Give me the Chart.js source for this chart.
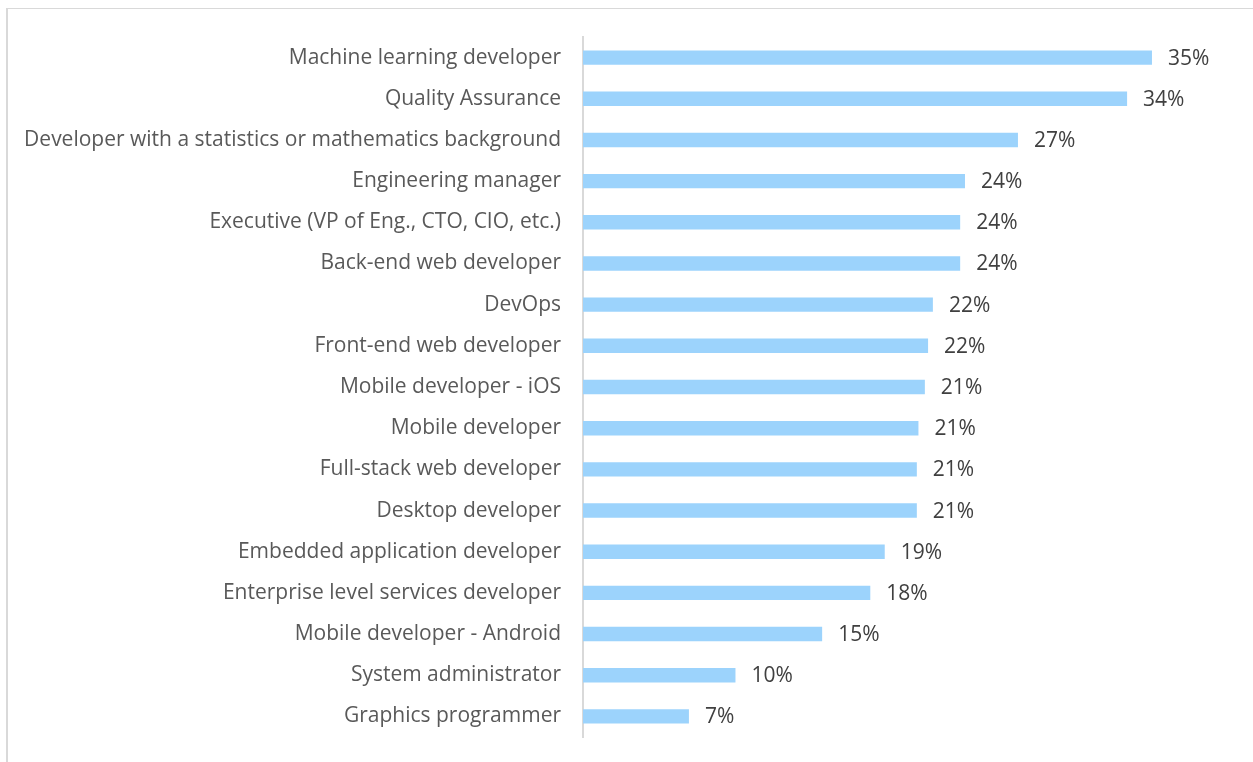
<!DOCTYPE html>
<html>
<head>
<meta charset="utf-8">
<script src="https://cdn.jsdelivr.net/npm/chart.js@4"></script>
<style>
  html, body { margin: 0; padding: 0; background: #fff; }
  body { width: 1253px; height: 762px; position: relative; overflow: hidden; }
  .frame { position: absolute; left: 6px; top: 8px; width: 1270px; height: 780px;
           border-left: 2px solid #d9d9d9; border-top: 1px solid #d9d9d9; }
  #roleChart { position: absolute; left: 0; top: 0; }
</style>
</head>
<body>
<div class="frame"></div>
<canvas id="roleChart" width="1253" height="762"></canvas>
<script>
// kategori dan nilai (persen)
const roles = [
    'Machine learning developer',
    'Quality Assurance',
    'Developer with a statistics or mathematics background',
    'Engineering manager',
    'Executive (VP of Eng., CTO, CIO, etc.)',
    'Back-end web developer',
    'DevOps',
    'Front-end web developer',
    'Mobile developer - iOS',
    'Mobile developer',
    'Full-stack web developer',
    'Desktop developer',
    'Embedded application developer',
    'Enterprise level services developer',
    'Mobile developer - Android',
    'System administrator',
    'Graphics programmer'
];
const shares = [35.45, 33.9, 27.1, 23.8, 23.5, 23.5, 21.8, 21.5, 21.3, 20.9, 20.8, 20.8, 18.8, 17.9, 14.9, 9.5, 6.6];

const FONT = '"Open Sans", Lato, sans-serif';

// label persen di ujung bar
const valueLabels = {
    id: 'valueLabels',
    afterDatasetsDraw(chart) {
        const ctx = chart.ctx;
        const meta = chart.getDatasetMeta(0);
        ctx.save();
        ctx.font = '21px ' + FONT;
        ctx.fillStyle = '#404040';
        ctx.textAlign = 'left';
        ctx.textBaseline = 'middle';
        meta.data.forEach(function(bar, i) {
            ctx.fillText(Math.round(shares[i]) + '%', bar.x + 16, bar.y + 1);
        });
        ctx.restore();
    }
};

document.addEventListener('DOMContentLoaded', function() {
    const ctx = document.getElementById('roleChart').getContext('2d');
    new Chart(ctx, {
        type: 'bar',
        data: {
            labels: roles,
            datasets: [{
                data: shares,
                backgroundColor: '#9cd3fc',
                borderWidth: 0,
                categoryPercentage: 1,
                barPercentage: 0.35
            }]
        },
        options: {
            indexAxis: 'y',
            responsive: false,
            animation: false,
            layout: {
                padding: { left: 0, right: 28, top: 37, bottom: 25 }
            },
            scales: {
                x: {
                    min: 0,
                    max: 40,
                    display: false
                },
                y: {
                    grid: { display: false, drawTicks: false },
                    border: { display: true, color: '#d9d9d9', width: 2 },
                    ticks: {
                        color: '#595959',
                        padding: 22,
                        font: { family: FONT, size: 21 }
                    },
                    afterFit: function(scale) {
                        scale.width = 583;
                        scale.paddingTop = 0;
                        scale.paddingBottom = 0;
                    }
                }
            },
            plugins: {
                legend: { display: false },
                tooltip: { enabled: false }
            }
        },
        plugins: [valueLabels]
    });
});
</script>
</body>
</html>
